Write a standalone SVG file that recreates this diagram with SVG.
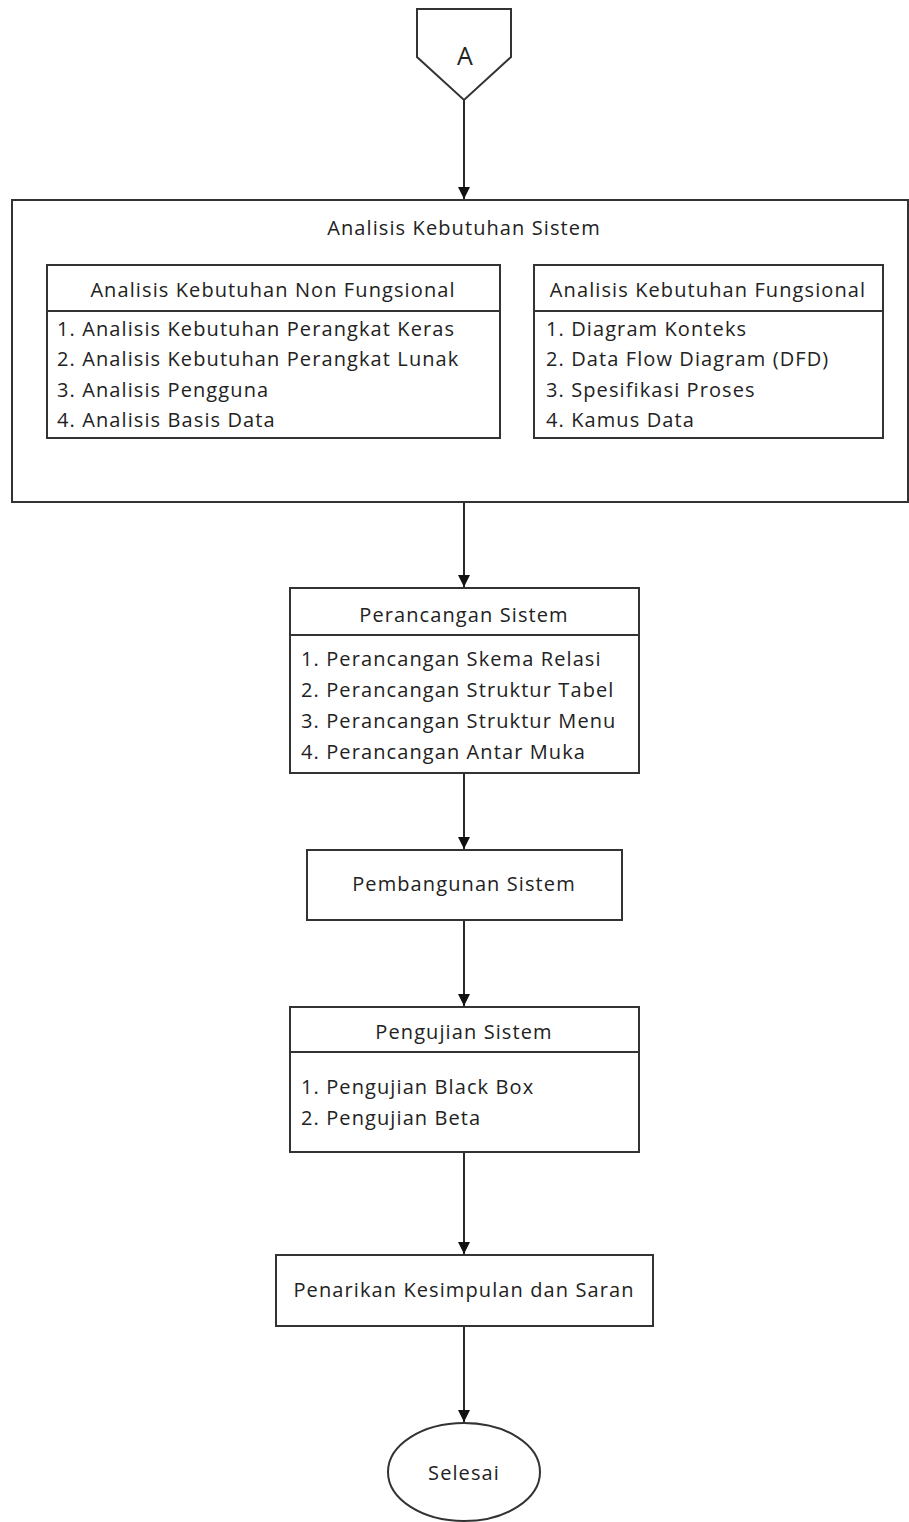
<svg xmlns="http://www.w3.org/2000/svg" width="909" height="1522" viewBox="0 0 909 1522">
<style>
.b{fill:#fff;stroke:#333;stroke-width:2}
.t{font-family:"Open Sans","Noto Sans",sans-serif;font-size:20px;letter-spacing:1.1px;fill:#222}
.c{text-anchor:middle}
.l{fill:none;stroke:#111;stroke-width:1.8}
</style>
<defs>
<marker id="ah" markerWidth="12" markerHeight="12" refX="10" refY="5" orient="auto" markerUnits="userSpaceOnUse" viewBox="0 0 10 10">
<path d="M0,0 L10,5 L0,10 z" fill="#111"/>
</marker>
</defs>
<rect width="909" height="1522" fill="#fff"/>
<g id="connectors">
<line class="l" x1="464" y1="100" x2="464" y2="199" marker-end="url(#ah)"/>
<line class="l" x1="464" y1="502" x2="464" y2="587" marker-end="url(#ah)"/>
<line class="l" x1="464" y1="773" x2="464" y2="849" marker-end="url(#ah)"/>
<line class="l" x1="464" y1="920" x2="464" y2="1006" marker-end="url(#ah)"/>
<line class="l" x1="464" y1="1152" x2="464" y2="1254" marker-end="url(#ah)"/>
<line class="l" x1="464" y1="1326" x2="464" y2="1422" marker-end="url(#ah)"/>
</g>
<g id="nodeA">
<path class="b" d="M417,9 L511,9 L511,57 L464,100 L417,57 Z"/>
<text class="t c" x="465" y="65" style="font-size:25px;letter-spacing:0">A</text>
</g>
<g id="analisis">
<rect class="b" x="12" y="200" width="896" height="302"/>
<text class="t c" x="464" y="235">Analisis Kebutuhan Sistem</text>
</g>
<g id="nonfungsional">
<rect class="b" x="47" y="265" width="453" height="173"/>
<line class="b" x1="47" y1="311" x2="500" y2="311"/>
<text class="t c" x="273" y="297">Analisis Kebutuhan Non Fungsional</text>
<text class="t" x="57" y="336">1. Analisis Kebutuhan Perangkat Keras</text>
<text class="t" x="57" y="366">2. Analisis Kebutuhan Perangkat Lunak</text>
<text class="t" x="57" y="397">3. Analisis Pengguna</text>
<text class="t" x="57" y="427">4. Analisis Basis Data</text>
</g>
<g id="fungsional">
<rect class="b" x="534" y="265" width="349" height="173"/>
<line class="b" x1="534" y1="311" x2="883" y2="311"/>
<text class="t c" x="708" y="297">Analisis Kebutuhan Fungsional</text>
<text class="t" x="546" y="336">1. Diagram Konteks</text>
<text class="t" x="546" y="366">2. Data Flow Diagram (DFD)</text>
<text class="t" x="546" y="397">3. Spesifikasi Proses</text>
<text class="t" x="546" y="427">4. Kamus Data</text>
</g>
<g id="perancangan">
<rect class="b" x="290" y="588" width="349" height="185"/>
<line class="b" x1="290" y1="635" x2="639" y2="635"/>
<text class="t c" x="464" y="622">Perancangan Sistem</text>
<text class="t" x="301" y="666">1. Perancangan Skema Relasi</text>
<text class="t" x="301" y="697">2. Perancangan Struktur Tabel</text>
<text class="t" x="301" y="728">3. Perancangan Struktur Menu</text>
<text class="t" x="301" y="759">4. Perancangan Antar Muka</text>
</g>
<g id="pembangunan">
<rect class="b" x="307" y="850" width="315" height="70"/>
<text class="t c" x="464" y="891">Pembangunan Sistem</text>
</g>
<g id="pengujian">
<rect class="b" x="290" y="1007" width="349" height="145"/>
<line class="b" x1="290" y1="1052" x2="639" y2="1052"/>
<text class="t c" x="464" y="1039">Pengujian Sistem</text>
<text class="t" x="301" y="1094">1. Pengujian Black Box</text>
<text class="t" x="301" y="1125">2. Pengujian Beta</text>
</g>
<g id="penarikan">
<rect class="b" x="276" y="1255" width="377" height="71"/>
<text class="t c" x="464" y="1297">Penarikan Kesimpulan dan Saran</text>
</g>
<g id="selesai">
<ellipse class="b" cx="464" cy="1472" rx="76" ry="49"/>
<text class="t c" x="464" y="1480">Selesai</text>
</g>
</svg>
